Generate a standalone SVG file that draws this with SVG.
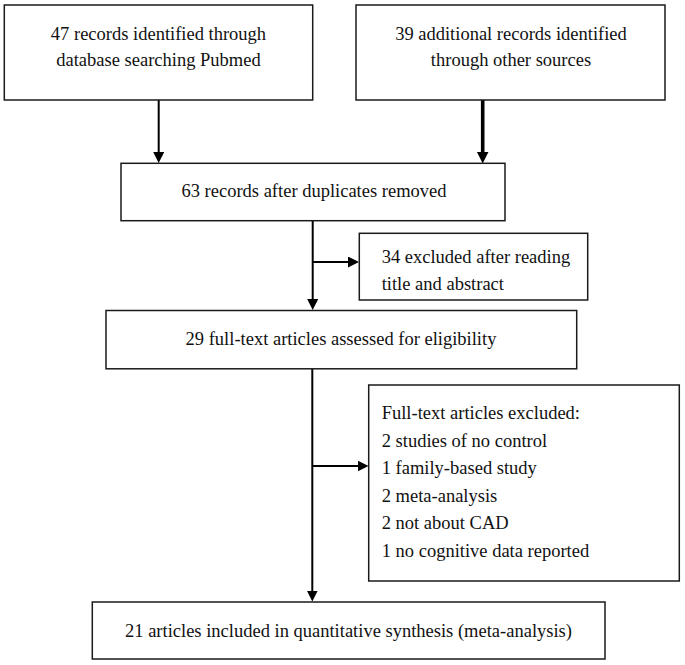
<svg xmlns="http://www.w3.org/2000/svg" width="685" height="665" viewBox="0 0 685 665">
  <style>
    .box { fill: #ffffff; stroke: #1a1a1a; stroke-width: 1.5; }
    .t { font-family: "Liberation Serif", "Times New Roman", serif; font-size: 18.5px; fill: #111111; }
    .c { text-anchor: middle; }
    .conn { fill: none; stroke: #000000; stroke-width: 2; }
    .thick { stroke-width: 3.6; }
  </style>
  <defs>
    <marker id="head" markerUnits="userSpaceOnUse" markerWidth="12" markerHeight="12" refX="5" refY="5.5" orient="auto">
      <path d="M0,0 L11,5.5 L0,11 z" fill="#000000"/>
    </marker>
    <marker id="headBig" markerUnits="userSpaceOnUse" markerWidth="13" markerHeight="13" refX="5" refY="6" orient="auto">
      <path d="M0,0 L12,6 L0,12 z" fill="#000000"/>
    </marker>
  </defs>
  <rect width="685" height="665" fill="#ffffff"/>

  <g id="connectors">
    <path class="conn" d="M158.7,100 L158.7,157" marker-end="url(#head)"/>
    <path class="conn thick" d="M482.7,100 L482.7,156.5" marker-end="url(#headBig)"/>
    <path class="conn" d="M312.7,220.7 L312.7,304" marker-end="url(#head)"/>
    <path class="conn" d="M312.7,262 L353,262" marker-end="url(#head)"/>
    <path class="conn" d="M312.3,369 L312.3,595.5" marker-end="url(#head)"/>
    <path class="conn" d="M312.3,466 L362.5,466" marker-end="url(#head)"/>
  </g>

  <g id="node-pubmed">
    <rect class="box" x="4.3" y="5" width="308.4" height="95"/>
    <text class="t c" x="158.5" y="40">47 records identified through</text>
    <text class="t c" x="158.5" y="66">database searching Pubmed</text>
  </g>

  <g id="node-other">
    <rect class="box" x="356" y="5" width="309" height="95"/>
    <text class="t c" x="511" y="40">39 additional records identified</text>
    <text class="t c" x="511" y="66">through other sources</text>
  </g>

  <g id="node-dedup">
    <rect class="box" x="121" y="163.3" width="384" height="57.4"/>
    <text class="t c" x="314" y="197">63 records after duplicates removed</text>
  </g>

  <g id="node-excluded1">
    <rect class="box" x="359.3" y="233.3" width="228.4" height="66.7"/>
    <text class="t" x="381.7" y="262.7">34 excluded after reading</text>
    <text class="t" x="381.7" y="290">title and abstract</text>
  </g>

  <g id="node-fulltext">
    <rect class="box" x="106" y="310.5" width="470.7" height="58.3"/>
    <text class="t c" x="341" y="345">29 full-text articles assessed for eligibility</text>
  </g>

  <g id="node-excluded2">
    <rect class="box" x="368.7" y="385" width="310.6" height="196"/>
    <text class="t" x="381.7" y="419">Full-text articles excluded:</text>
    <text class="t" x="381.7" y="446.6">2 studies of no control</text>
    <text class="t" x="381.7" y="474.2">1 family-based study</text>
    <text class="t" x="381.7" y="501.8">2 meta-analysis</text>
    <text class="t" x="381.7" y="529.4">2 not about CAD</text>
    <text class="t" x="381.7" y="557">1 no cognitive data reported</text>
  </g>

  <g id="node-included">
    <rect class="box" x="92.3" y="602" width="512.7" height="57"/>
    <text class="t c" x="348.5" y="637">21 articles included in quantitative synthesis (meta-analysis)</text>
  </g>
</svg>
